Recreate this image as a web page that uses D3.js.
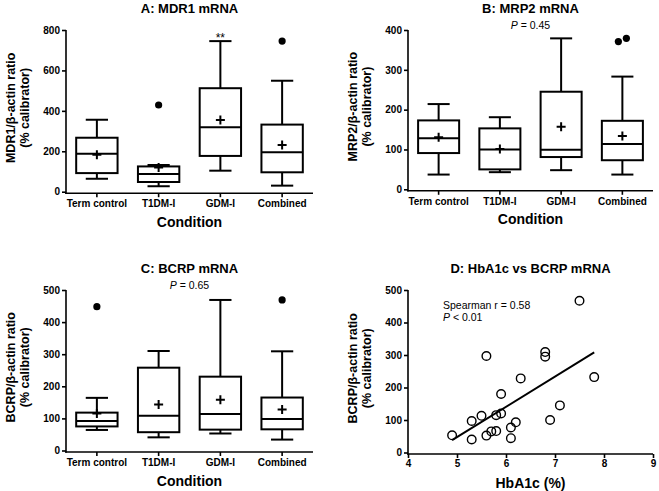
<!DOCTYPE html>
<html>
<head>
<meta charset="utf-8">
<script src="https://cdn.jsdelivr.net/npm/d3@7"></script>
<style>
  body { margin: 0; background: #fff; }
  svg { display: block; font-family: "Liberation Sans", Arial, sans-serif; }
</style>
</head>
<body>
<div id="chart"></div>
<script>
// categories shared by the three box plots
const conditions = ["Term control", "T1DM-I", "GDM-I", "Combined"];

// A: MDR1 mRNA (whisker low, Q1, median, Q3, whisker high, mean, outliers)
const mdr1Low = [64, 27, 104, 30];
const mdr1Q1 = [92, 48, 177, 96];
const mdr1Median = [188, 88, 319, 195];
const mdr1Q3 = [267, 125, 512, 332];
const mdr1High = [356, 132, 745, 549];
const mdr1Mean = [183, 120, 355, 231];
const mdr1Outliers = [[], [429], [], [745]];
const mdr1Ticks = [0, 200, 400, 600, 800];

// B: MRP2 mRNA
const mrp2Low = [37, 43, 48, 37];
const mrp2Q1 = [91, 50, 81, 73];
const mrp2Median = [128, 100, 99, 114];
const mrp2Q3 = [173, 153, 245, 172];
const mrp2High = [214, 181, 379, 283];
const mrp2Mean = [131, 101, 157, 134];
const mrp2Outliers = [[], [], [], [371, 379]];
const mrp2Ticks = [0, 100, 200, 300, 400];

// C: BCRP mRNA
const bcrpLow = [64, 41, 53, 34];
const bcrpQ1 = [75, 57, 65, 66];
const bcrpMedian = [92, 108, 114, 98];
const bcrpQ3 = [118, 258, 230, 165];
const bcrpHigh = [164, 310, 469, 309];
const bcrpMean = [115, 143, 158, 128];
const bcrpOutliers = [[448], [], [], [469]];
const bcrpTicks = [0, 100, 200, 300, 400, 500];

// D: HbA1c vs BCRP mRNA
const hba1c = [4.9, 5.3, 5.3, 5.5, 5.6, 5.6, 5.7, 5.8, 5.8, 5.9, 5.9, 6.1, 6.1, 6.2, 6.3, 6.8, 6.8, 6.9, 7.1, 7.5, 7.8];
const bcrpRatio = [53, 97, 40, 113, 297, 52, 65, 115, 66, 120, 180, 77, 44, 93, 228, 309, 295, 100, 145, 467, 232];
const fitX = [4.9, 7.8];
const fitY = [38, 308];
const hbTicks = [4, 5, 6, 7, 8, 9];

const W = 659, H = 491;
const font = '"Liberation Sans", Arial, sans-serif';

const svg = d3.select("#chart").append("svg")
  .attr("width", W)
  .attr("height", H);

// draws y axis, x axis line and the text around a panel
function frame(p) {
  const g = svg.append("g");
  const xAxisY = p.bottom + 1.5;

  // title
  g.append("text")
    .attr("x", (p.left + p.right) / 2)
    .attr("y", p.top - 17.5)
    .attr("text-anchor", "middle")
    .style("font-size", "13px")
    .style("font-weight", "bold")
    .text(p.title);

  // y axis
  const yAxis = g.append("g")
    .attr("transform", `translate(${p.left},0)`)
    .call(d3.axisLeft(p.y).tickValues(p.yTicks).tickSize(4).tickSizeOuter(0));
  yAxis.select(".domain").remove();
  yAxis.selectAll("line").attr("stroke", "#000").attr("stroke-width", 1.6);
  yAxis.selectAll("text")
    .attr("x", -6)
    .style("font-family", font)
    .style("font-size", "10px")
    .style("font-weight", "bold")
    .attr("fill", "#000");

  g.append("line")
    .attr("x1", p.left).attr("x2", p.left)
    .attr("y1", p.top).attr("y2", xAxisY + 0.8)
    .attr("stroke", "#000").attr("stroke-width", 1.6);

  // x axis
  const xa = d3.axisBottom(p.x).tickValues(p.xTicks).tickSize(4).tickSizeOuter(0);
  if (p.xFormat) xa.tickFormat(p.xFormat);
  const xAxis = g.append("g")
    .attr("transform", `translate(0,${xAxisY})`)
    .call(xa);
  xAxis.select(".domain").remove();
  xAxis.selectAll("line").attr("stroke", "#000").attr("stroke-width", 1.6);
  xAxis.selectAll("text")
    .attr("y", p.xTickTextY)
    .style("font-family", font)
    .style("font-size", "10px")
    .style("font-weight", "bold")
    .attr("fill", "#000");

  g.append("line")
    .attr("x1", p.left - 0.8).attr("x2", p.right)
    .attr("y1", xAxisY).attr("y2", xAxisY)
    .attr("stroke", "#000").attr("stroke-width", 1.6);

  // x label
  g.append("text")
    .attr("x", (p.left + p.right) / 2)
    .attr("y", xAxisY + 33.5)
    .attr("text-anchor", "middle")
    .style("font-size", "14px")
    .style("font-weight", "bold")
    .text(p.xLabel);

  // y label, two lines
  const cy = (p.top + p.bottom) / 2 - 3;
  p.yLabel.forEach((line, i) => {
    g.append("text")
      .attr("transform", `translate(${p.left - 51 + i * 14},${cy}) rotate(-90)`)
      .attr("text-anchor", "middle")
      .style("font-size", "12.5px")
      .style("font-weight", "bold")
      .text(line);
  });
  return g;
}

function boxPanel(p) {
  const y = d3.scaleLinear().domain([0, p.yTicks[p.yTicks.length - 1]]).range([p.bottom, p.top]);
  const x = d3.scaleBand().domain(conditions).range([p.left, p.right]);
  const g = frame(Object.assign({}, p, { x: x, y: y, xTicks: conditions, xTickTextY: 7 }));

  const bw = x.bandwidth() * 0.67;
  const cw = x.bandwidth() * 0.36;
  const rows = conditions.map((c, i) => ({
    c: c, low: p.low[i], q1: p.q1[i], med: p.median[i], q3: p.q3[i],
    high: p.high[i], mean: p.mean[i], out: p.outliers[i]
  }));

  const box = g.append("g").selectAll("g")
    .data(rows)
    .join("g")
    .attr("transform", d => `translate(${x(d.c) + x.bandwidth() / 2},0)`);

  // whiskers
  box.append("line")
    .attr("x1", 0).attr("x2", 0)
    .attr("y1", d => y(d.q3)).attr("y2", d => y(d.high))
    .attr("stroke", "#000").attr("stroke-width", 2);
  box.append("line")
    .attr("x1", 0).attr("x2", 0)
    .attr("y1", d => y(d.q1)).attr("y2", d => y(d.low))
    .attr("stroke", "#000").attr("stroke-width", 2);
  box.append("line")
    .attr("x1", -cw / 2).attr("x2", cw / 2)
    .attr("y1", d => y(d.high)).attr("y2", d => y(d.high))
    .attr("stroke", "#000").attr("stroke-width", 2);
  box.append("line")
    .attr("x1", -cw / 2).attr("x2", cw / 2)
    .attr("y1", d => y(d.low)).attr("y2", d => y(d.low))
    .attr("stroke", "#000").attr("stroke-width", 2);

  // box
  box.append("rect")
    .attr("x", -bw / 2)
    .attr("width", bw)
    .attr("y", d => y(d.q3))
    .attr("height", d => y(d.q1) - y(d.q3))
    .attr("fill", "#fff")
    .attr("stroke", "#000").attr("stroke-width", 2);
  box.append("line")
    .attr("x1", -bw / 2).attr("x2", bw / 2)
    .attr("y1", d => y(d.med)).attr("y2", d => y(d.med))
    .attr("stroke", "#000").attr("stroke-width", 2);

  // mean +
  box.append("path")
    .attr("d", d => `M-4.5,${y(d.mean)}h9M0,${y(d.mean) - 4.5}v9`)
    .attr("stroke", "#000").attr("stroke-width", 2);

  // outliers
  box.selectAll("circle")
    .data(d => d.out.map((v, k) => ({ v: v, dx: (k - (d.out.length - 1) / 2) * 8 })))
    .join("circle")
    .attr("cx", d => d.dx)
    .attr("cy", d => y(d.v))
    .attr("r", 3.6)
    .attr("fill", "#000");

  if (p.note) {
    const t = g.append("text")
      .attr("x", p.left + x.step() * 2)
      .attr("y", p.top - 1.5)
      .attr("text-anchor", "middle")
      .style("font-size", "10.5px");
    t.append("tspan").style("font-style", "italic").text("P");
    t.append("tspan").text(" = " + p.note);
  }
  return { g: g, x: x, y: y };
}

// A
const pa = boxPanel({
  title: "A: MDR1 mRNA", left: 66, right: 313, top: 30, bottom: 191.7,
  yTicks: mdr1Ticks, low: mdr1Low, q1: mdr1Q1, median: mdr1Median, q3: mdr1Q3,
  high: mdr1High, mean: mdr1Mean, outliers: mdr1Outliers,
  xLabel: "Condition", yLabel: ["MDR1/\u03b2-actin ratio", "(% calibrator)"]
});
pa.g.append("text")
  .attr("x", pa.x("GDM-I") + pa.x.bandwidth() / 2)
  .attr("y", pa.y(mdr1High[2]) + 0.5)
  .attr("text-anchor", "middle")
  .style("font-size", "12px")
  .text("**");

// B
boxPanel({
  title: "B: MRP2 mRNA", left: 408, right: 653, top: 30, bottom: 189.3,
  yTicks: mrp2Ticks, low: mrp2Low, q1: mrp2Q1, median: mrp2Median, q3: mrp2Q3,
  high: mrp2High, mean: mrp2Mean, outliers: mrp2Outliers, note: "0.45",
  xLabel: "Condition", yLabel: ["MRP2/\u03b2-actin ratio", "(% calibrator)"]
});

// C
boxPanel({
  title: "C: BCRP mRNA", left: 66, right: 313, top: 290, bottom: 450.5,
  yTicks: bcrpTicks, low: bcrpLow, q1: bcrpQ1, median: bcrpMedian, q3: bcrpQ3,
  high: bcrpHigh, mean: bcrpMean, outliers: bcrpOutliers, note: "0.65",
  xLabel: "Condition", yLabel: ["BCRP/\u03b2-actin ratio", "(% calibrator)"]
});

// D scatter
const pd = { left: 408, right: 653, top: 290, bottom: 452.5 };
const xd = d3.scaleLinear().domain([4, 9]).range([pd.left, pd.right]);
const yd = d3.scaleLinear().domain([0, 500]).range([pd.bottom, pd.top]);
const gd = frame(Object.assign({}, pd, {
  title: "D: HbA1c vs BCRP mRNA", x: xd, y: yd, xTicks: hbTicks, yTicks: bcrpTicks,
  xFormat: d3.format("d"),
  xTickTextY: 6, xLabel: "HbA1c (%)", yLabel: ["BCRP/\u03b2-actin ratio", "(% calibrator)"]
}));

gd.append("line")
  .attr("x1", xd(fitX[0])).attr("y1", yd(fitY[0]))
  .attr("x2", xd(fitX[1])).attr("y2", yd(fitY[1]))
  .attr("stroke", "#000").attr("stroke-width", 2);

gd.selectAll("circle.pt")
  .data(hba1c)
  .join("circle")
  .attr("class", "pt")
  .attr("cx", d => xd(d))
  .attr("cy", (d, i) => yd(bcrpRatio[i]))
  .attr("r", 4.3)
  .attr("fill", "none")
  .attr("stroke", "#000")
  .attr("stroke-width", 1.4);

gd.append("text")
  .attr("x", 443)
  .attr("y", 309)
  .style("font-size", "10.5px")
  .text("Spearman r = 0.58");
const pt = gd.append("text")
  .attr("x", 443)
  .attr("y", 321)
  .style("font-size", "10.5px");
pt.append("tspan").style("font-style", "italic").text("P");
pt.append("tspan").text(" < 0.01");
</script>
</body>
</html>
